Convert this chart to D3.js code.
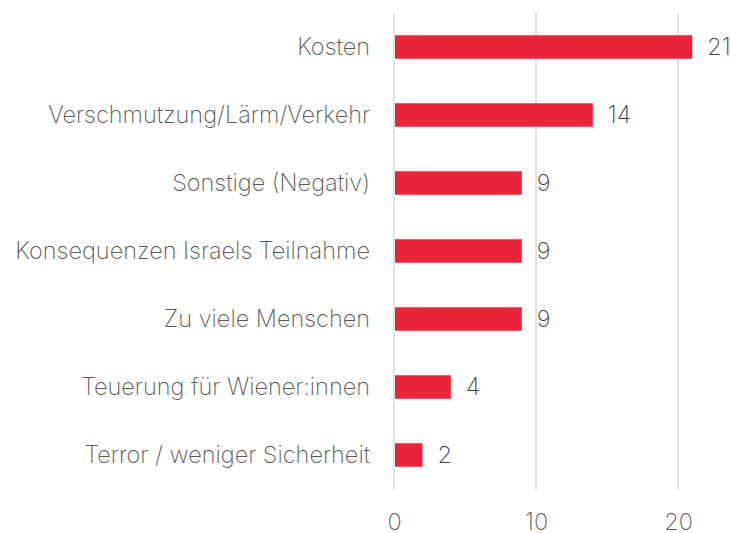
<!DOCTYPE html>
<html>
<head>
<meta charset="utf-8">
<script src="https://cdn.jsdelivr.net/npm/d3@7"></script>
<style>
  body { margin: 0; background: #fff; }
  svg { display: block; font-family: Inter, Roboto, sans-serif; font-weight: 200; }
</style>
</head>
<body>
<div id="chart"></div>
<script>
var categories = ['Kosten', 'Verschmutzung/Lärm/Verkehr', 'Sonstige (Negativ)',
    'Konsequenzen Israels Teilnahme', 'Zu viele Menschen',
    'Teuerung für Wiener:innen', 'Terror / weniger Sicherheit'];
var values = [21, 14, 9, 9, 9, 4, 2];
var tickValues = [0, 10, 20];

var width = 730, height = 533;
var margins = { left: 394, right: 0, top: 13, bottom: 44 };

var svg = d3.select('#chart').append('svg')
    .attr('width', width).attr('height', height);

var x = d3.scaleLinear()
    .domain([0, 1])
    .range([margins.left, margins.left + 14.2]);

var y = d3.scaleBand()
    .domain(categories)
    .range([margins.top, height - margins.bottom])
    .paddingInner(0.655)
    .paddingOuter(0.3275);

// gridlines
svg.selectAll('.grid').data(tickValues)
    .enter().append('line')
    .attr('class', 'grid')
    .attr('x1', function(d) { return x(d); })
    .attr('x2', function(d) { return x(d); })
    .attr('y1', margins.top)
    .attr('y2', height - margins.bottom)
    .style('stroke', '#d9d9d9')
    .style('stroke-width', 1.5);

// bars
svg.selectAll('.bar').data(values)
    .enter().append('rect')
    .attr('class', 'bar')
    .attr('x', x(0) + 1)
    .attr('y', function(d, i) { return y(categories[i]); })
    .attr('width', function(d) { return x(d) - x(0) - 1; })
    .attr('height', y.bandwidth())
    .style('fill', '#e8233a');

// value labels
svg.selectAll('.val').data(values)
    .enter().append('text')
    .attr('class', 'val')
    .attr('x', function(d) { return x(d) + 15; })
    .attr('y', function(d, i) { return y(categories[i]) + y.bandwidth() / 2; })
    .attr('dy', '0.36em')
    .style('font-size', '23.5px')
    .style('fill', '#404040')
    .text(function(d) { return d; });

// category labels
svg.selectAll('.cat').data(categories)
    .enter().append('text')
    .attr('class', 'cat')
    .attr('x', margins.left - 24)
    .attr('y', function(d) { return y(d) + y.bandwidth() / 2; })
    .attr('dy', '0.36em')
    .style('text-anchor', 'end')
    .style('font-size', '23.5px')
    .style('fill', '#595959')
    .text(function(d) { return d; });

// x axis tick labels
var xAxis = d3.axisBottom(x).tickValues(tickValues).tickFormat(d3.format('d'))
    .tickSize(0).tickPadding(0);
var gx = svg.append('g')
    .attr('class', 'x axis')
    .attr('transform', 'translate(0,' + (height - 20) + ')')
    .call(xAxis);
gx.select('.domain').remove();
gx.selectAll('text')
    .attr('dy', '0.71em')
    .style('font-family', 'Inter, Roboto, sans-serif')
    .style('font-weight', 200)
    .style('font-size', '23.5px')
    .style('fill', '#595959');
</script>
</body>
</html>
